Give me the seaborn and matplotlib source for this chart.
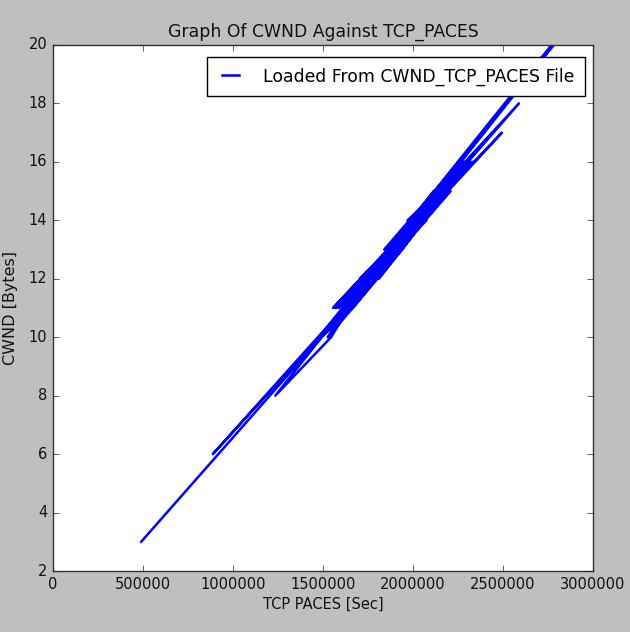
import matplotlib
matplotlib.use("Agg")
import matplotlib.pyplot as plt
import seaborn as sns
import pandas as pd

# Data (TCP PACES vs CWND, in plotting order)
tcp_paces = [490000, 1490000, 2777000, 2911000, 1235000, 1545000,
             1740500, 2059500, 1586000, 1935000, 2134000, 1795500, 1979500,
             2298500, 1885000, 1646000, 2209000, 1705500, 2029500, 2338500,
             1850000, 2174000, 1616000, 1910000, 2258500, 1765500, 2074500,
             1725500, 2154000, 1925000, 1666000, 1491500, 1994500, 2318500,
             1810500, 2114000, 1870000, 2494000, 2044500, 1750500, 2194000,
             1571000, 2019500, 2278500, 1895000, 2124000, 1785500, 1989500,
             2588500, 2164000, 1840000, 2260500, 2064500, 1715500, 2184000,
             1940000, 1526500, 1626000, 2034500, 1775500, 2144000, 1880000,
             2328500, 1969500, 2200000, 888000, 1480000, 1860000, 1556000,
             2014500, 1800500, 2199000, 1905000, 2288500, 2054500, 1730500,
             2248500, 2900000]
cwnd = [3, 10, 20, 21, 8, 10,
        12, 14, 11, 13, 15, 12, 14,
        16, 13, 11, 15, 12, 14, 16,
        13, 15, 11, 13, 16, 12, 14,
        12, 15, 13, 11, 10, 14, 16,
        12, 15, 13, 17, 14, 12, 15,
        11, 14, 16, 13, 15, 12, 14,
        18, 15, 13, 16, 14, 12, 15,
        13, 10, 11, 14, 12, 15, 13,
        16, 14, 15, 6, 10, 13, 11,
        14, 12, 15, 13, 16, 14, 12,
        16, 21]

title = "Graph Of CWND Against TCP_PACES"
xlabel = "TCP PACES [Sec]"
ylabel = "CWND [Bytes]"
legend_label = "Loaded From CWND_TCP_PACES File"
xticks = [0, 500000, 1000000, 1500000, 2000000, 2500000, 3000000]
yticks = [2, 4, 6, 8, 10, 12, 14, 16, 18, 20]

plt.style.use("classic")
plt.rcParams["font.family"] = ["DejaVu Sans"]

df = pd.DataFrame({"TCP PACES": tcp_paces, "CWND": cwnd})

fig = plt.figure(figsize=(6.3, 6.32), dpi=100, facecolor="#bfbfbf")
ax = fig.add_axes([0.0841, 0.0965, 0.9413 - 0.0841, 0.9288 - 0.0965])
ax.set_facecolor("white")

sns.lineplot(data=df, x="TCP PACES", y="CWND", sort=False, estimator=None,
             color="#0000ff", linewidth=1.8, label=legend_label, ax=ax)

ax.set_xlim(0, 3000000)
ax.set_ylim(2, 20)
ax.set_xticks(xticks)
ax.set_xticklabels([str(v) for v in xticks])
ax.set_yticks(yticks)
ax.set_yticklabels([str(v) for v in yticks])
ax.tick_params(direction="in", top=True, right=True, labelsize=10.5,
               length=4, colors="#222222", labelcolor="#111111")
for s in ax.spines.values():
    s.set_color("#333333")
    s.set_linewidth(1.0)

ax.set_title(title, fontsize=12.4, color="#111111", pad=6)
ax.set_xlabel(xlabel, fontsize=10.5, color="#111111", labelpad=4)
ax.set_ylabel(ylabel, fontsize=11.5, color="#111111", labelpad=8)

leg = ax.legend(loc="upper right", bbox_to_anchor=(1 - 8 / 540, 1 - 12 / 526),
                fontsize=12.4, frameon=True, fancybox=False,
                shadow=False, handlelength=1.6, handletextpad=1.1,
                borderaxespad=0.0, borderpad=0.6)
leg.get_frame().set_edgecolor("black")
leg.get_frame().set_linewidth(1.0)

fig.savefig("out.png", dpi=100, facecolor=fig.get_facecolor())
